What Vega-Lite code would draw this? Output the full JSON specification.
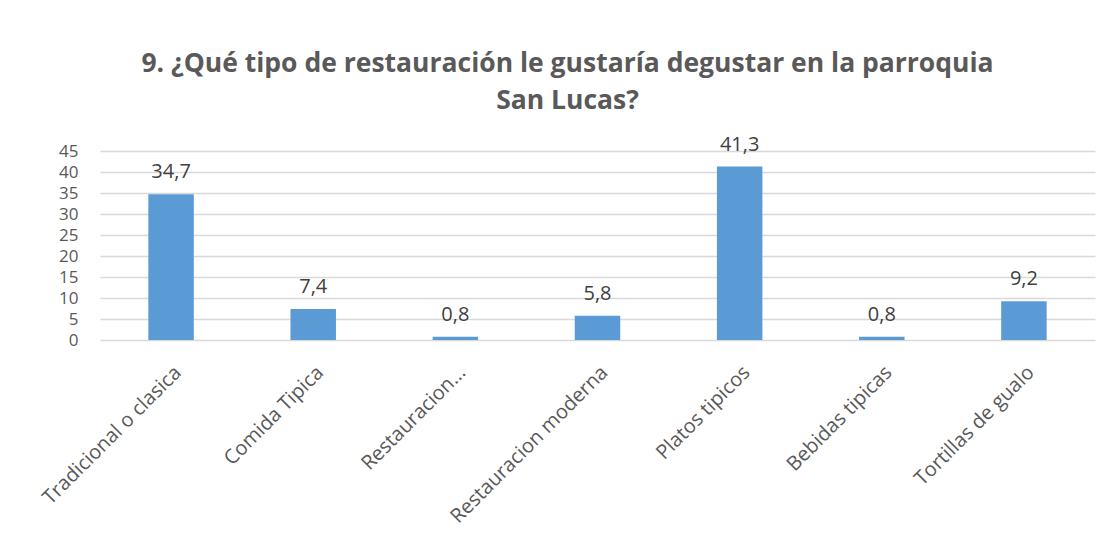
{
  "$schema": "https://vega.github.io/schema/vega-lite/v6.json",
  "width": 995,
  "height": 189,
  "autosize": "none",
  "padding": {"left": 100, "top": 151, "right": 18, "bottom": 201},
  "background": "white",
  "config": {
    "view": {"stroke": null},
    "locale": {"number": {"decimal": ",", "thousands": ".", "grouping": [3], "currency": ["$", ""]}},
    "font": "Open Sans"
  },
  "title": {
    "text": ["9. ¿Qué tipo de restauración le gustaría degustar en la parroquia", "San Lucas?"],
    "font": "Open Sans",
    "fontSize": 26.5,
    "fontWeight": "bold",
    "color": "#595959",
    "anchor": "middle",
    "dx": -30,
    "offset": 20,
    "lineHeight": 37
  },
  "data": {
    "values": [
      {"categoria": "Tradicional o clasica", "valor": 34.7},
      {"categoria": "Comida Tipica", "valor": 7.4},
      {"categoria": "Restauracion...", "valor": 0.8},
      {"categoria": "Restauracion moderna", "valor": 5.8},
      {"categoria": "Platos tipicos", "valor": 41.3},
      {"categoria": "Bebidas tipicas", "valor": 0.8},
      {"categoria": "Tortillas de gualo", "valor": 9.2}
    ]
  },
  "encoding": {
    "x": {
      "field": "categoria",
      "type": "nominal",
      "sort": null,
      "scale": {"paddingInner": 0.68, "paddingOuter": 0.34},
      "axis": {
        "title": null,
        "labelAngle": -45,
        "labelFontSize": 20,
        "labelColor": "#595959",
        "labelFont": "Open Sans",
        "ticks": false,
        "domain": false,
        "labelPadding": 22,
        "labelLimit": 400
      }
    },
    "y": {
      "field": "valor",
      "type": "quantitative",
      "scale": {"domain": [0, 45]},
      "axis": {
        "title": null,
        "values": [0, 5, 10, 15, 20, 25, 30, 35, 40, 45],
        "labelFontSize": 17,
        "labelColor": "#595959",
        "labelFont": "Open Sans",
        "ticks": false,
        "domain": false,
        "labelPadding": 22,
        "gridColor": "#d9d9d9",
        "gridWidth": 1.3
      }
    }
  },
  "layer": [
    {"mark": {"type": "bar", "color": "#5B9BD5"}},
    {
      "mark": {"type": "text", "dy": -16, "baseline": "alphabetic", "fontSize": 20, "color": "#404040", "font": "Open Sans"},
      "encoding": {"text": {"field": "valor", "type": "quantitative", "format": ".1f"}}
    }
  ]
}
